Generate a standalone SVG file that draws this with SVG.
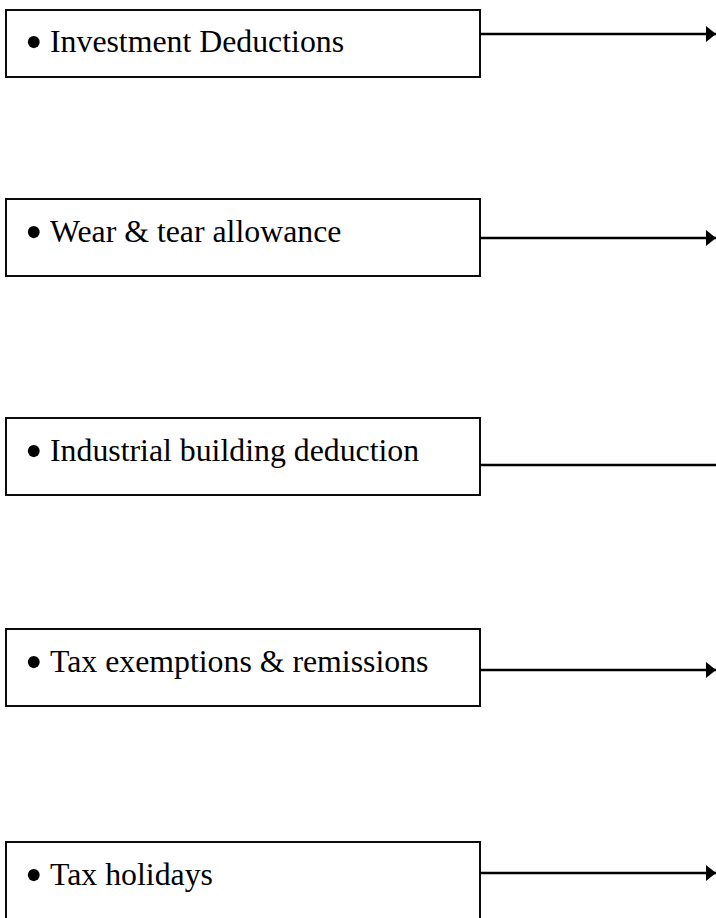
<svg xmlns="http://www.w3.org/2000/svg" width="716" height="918" viewBox="0 0 716 918">
<style>
.box{fill:#fff;stroke:#000;stroke-width:1.9}
.lbl{font-family:"Liberation Serif","Times New Roman",serif;font-size:31.8px;fill:#000}
.bul{font-size:50px}
.conn{stroke:#000;stroke-width:2.4;fill:none}
</style>
<defs>
<marker id="arr" markerUnits="userSpaceOnUse" markerWidth="11" markerHeight="16" refX="10" refY="8" orient="auto">
<path d="M0,0 L10,8 L0,16 Z" fill="#000"/>
</marker>
</defs>
<rect width="716" height="918" fill="#fff"/>
<g id="node-investment">
<rect class="box" x="6" y="10" width="474" height="67"/>
<text class="lbl"><tspan class="bul" x="25" y="59">•</tspan><tspan x="50" y="52">Investment Deductions</tspan></text>
</g>
<g id="node-wear">
<rect class="box" x="6" y="199" width="474" height="77"/>
<text class="lbl"><tspan class="bul" x="25" y="248.5">•</tspan><tspan x="50" y="241.5">Wear &amp; tear allowance</tspan></text>
</g>
<g id="node-industrial">
<rect class="box" x="6" y="418" width="474" height="77"/>
<text class="lbl"><tspan class="bul" x="25" y="467.5">•</tspan><tspan x="50" y="460.5">Industrial building deduction</tspan></text>
</g>
<g id="node-exemptions">
<rect class="box" x="6" y="629" width="474" height="77"/>
<text class="lbl"><tspan class="bul" x="25" y="678.5">•</tspan><tspan x="50" y="671.5">Tax exemptions &amp; remissions</tspan></text>
</g>
<g id="node-holidays">
<rect class="box" x="6" y="842" width="474" height="90"/>
<text class="lbl"><tspan class="bul" x="25" y="892">•</tspan><tspan x="50" y="885">Tax holidays</tspan></text>
</g>
<g id="connectors">
<line class="conn" x1="480" y1="34" x2="716" y2="34" marker-end="url(#arr)"/>
<line class="conn" x1="480" y1="238" x2="716" y2="238" marker-end="url(#arr)"/>
<line class="conn" x1="480" y1="465" x2="716" y2="465"/>
<line class="conn" x1="480" y1="670" x2="716" y2="670" marker-end="url(#arr)"/>
<line class="conn" x1="480" y1="873" x2="716" y2="873" marker-end="url(#arr)"/>
</g>
</svg>
